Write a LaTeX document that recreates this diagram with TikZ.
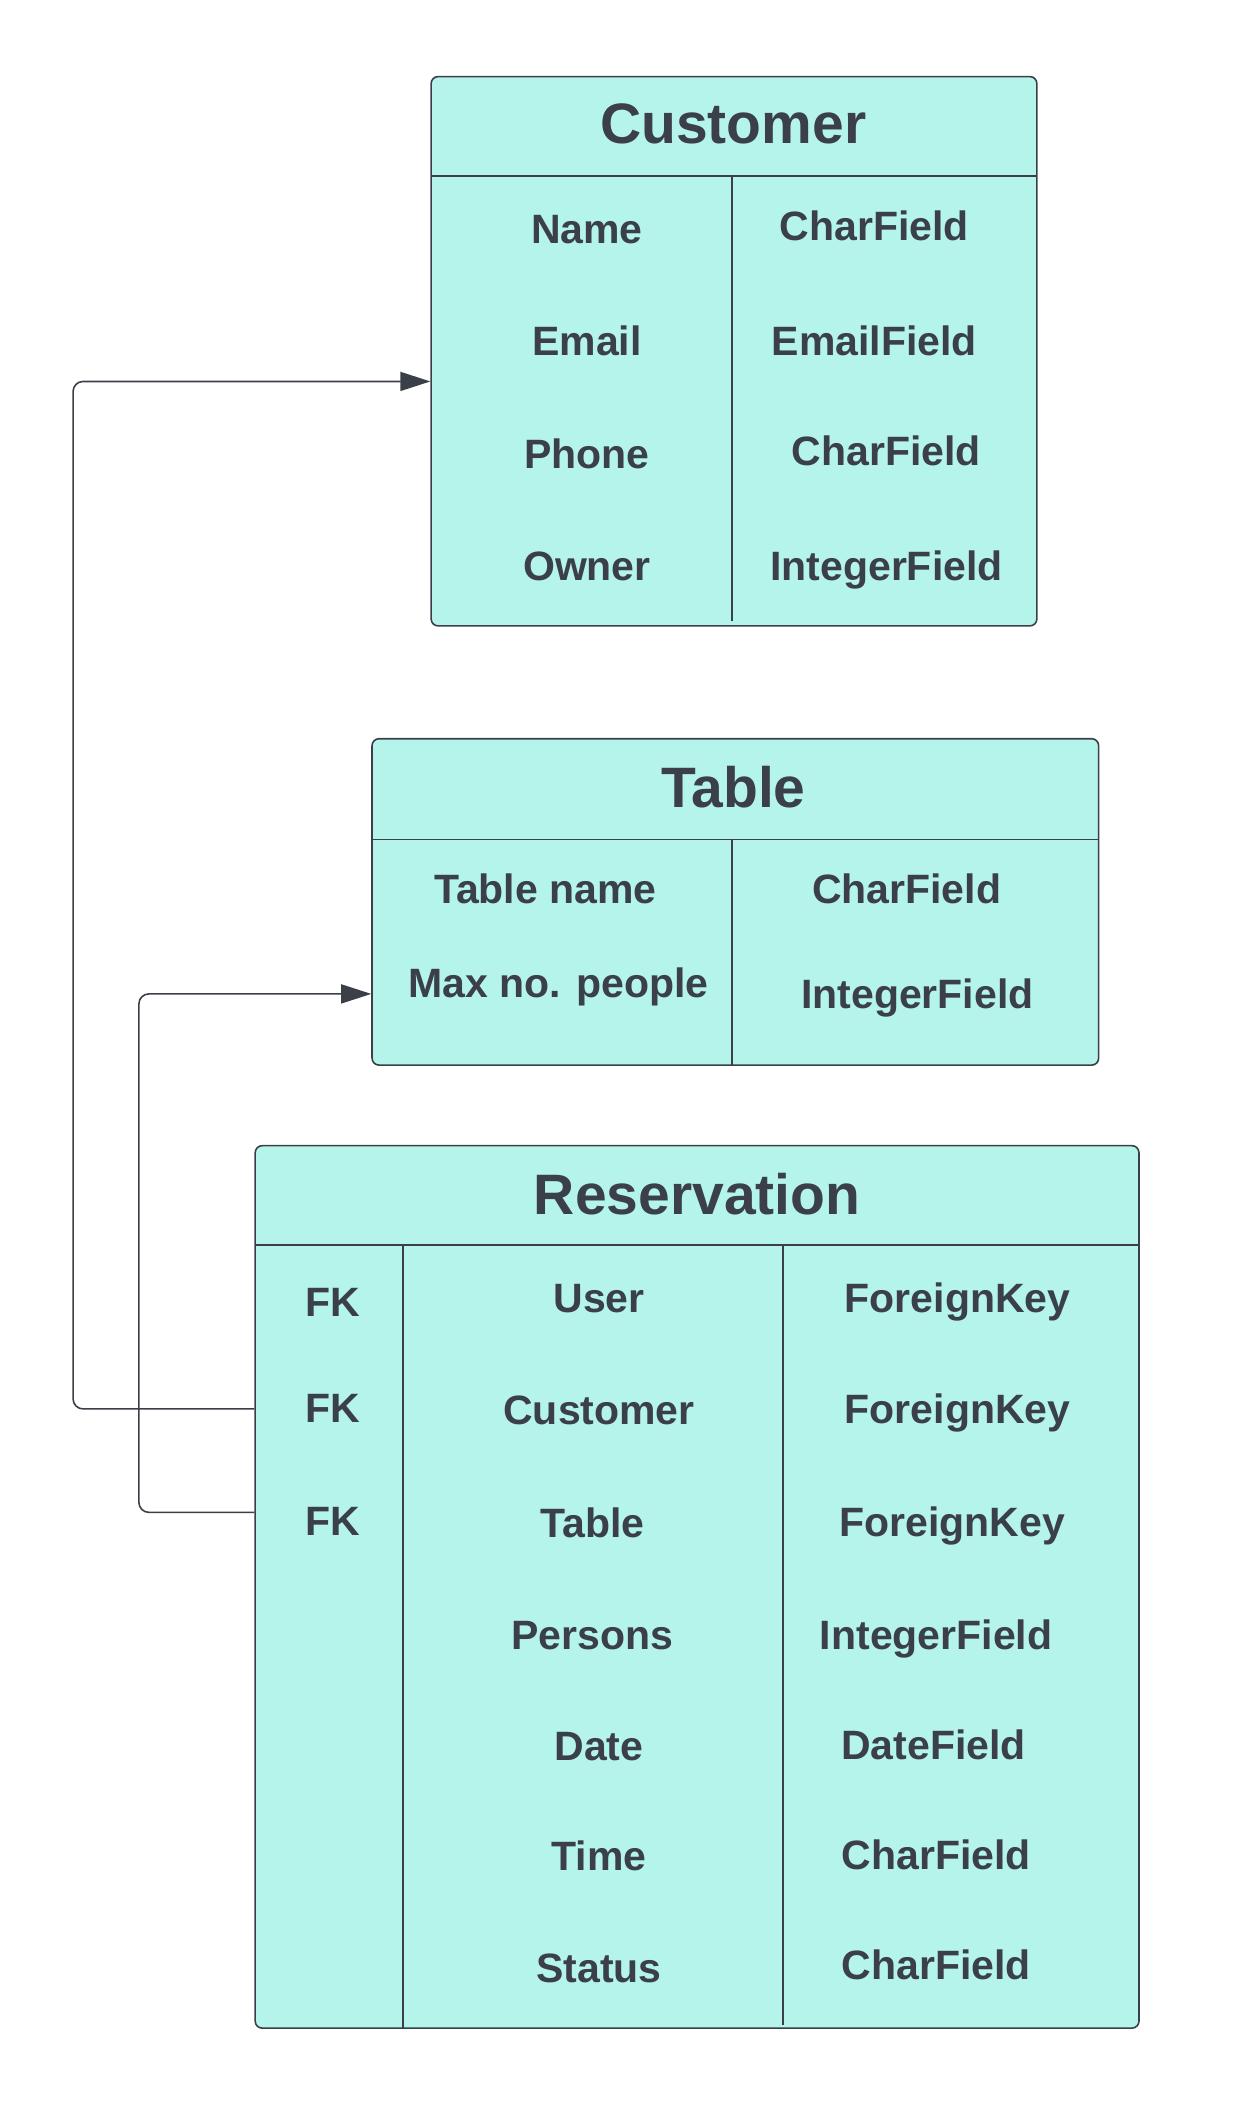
\documentclass[tikz,border=0pt]{standalone}
\usepackage{fontspec}
\setmainfont{Liberation Sans}
\usetikzlibrary{arrows.meta,positioning,fit}
\definecolor{aqua}{HTML}{B5F4EA}
\definecolor{ink}{HTML}{3A3F48}

\begin{document}
\begin{tikzpicture}[x=0.67165pt, y=-0.67165pt,
  every node/.style={font=\bfseries\fontsize{20.5}{24}\selectfont, text=ink, inner sep=0pt, text height=14.7pt, text depth=0pt},
  entity/.style={draw=ink, fill=aqua, line width=0.8pt, rounded corners=3.5pt},
  title/.style={font=\bfseries\fontsize{28.5}{34}\selectfont, text height=20.4pt},
  rule/.style={draw=ink, line width=0.65pt},
  link/.style={draw=ink, line width=0.8pt, rounded corners=5pt, -{Triangle[length=15pt,width=9.5pt]}}]
  \useasboundingbox (0,0) rectangle (938,1568);

  % Customer
  \node[entity, fit={(321,57) (772,466)}] (cust) {};
  \draw[rule] (321,131) -- (772,131);
  \draw[rule] (545,131) -- (545,462);
  \node[title] (custT) at (546,92) {Customer};
  \node (cName)  at (437,170) {Name};
  \node (cEmail) at (437,254) {Email};
  \node (cPhone) at (437,338) {Phone};
  \node (cOwner) at (437,421) {Owner};
  \node (cNameF)  at (651,168) {CharField};
  \node (cEmailF) at (651,254) {EmailField};
  \node (cPhoneF) at (660,336) {CharField};
  \node (cOwnerF) at (660,421) {IntegerField};

  % Table
  \node[entity, fit={(277,550) (818,793)}] (tbl) {};
  \draw[rule] (277,625) -- (818,625);
  \draw[rule] (545,625) -- (545,793);
  \node[title] (tblT) at (546,586) {Table};
  \node (tName)  at (406,662) {Table name};
  \node (tMax)   at (416,732) {Max no. people};
  \node (tNameF) at (675,662) {CharField};
  \node (tMaxF)  at (683,740) {IntegerField};

  % Reservation
  \node[entity, fit={(190,853) (848,1510)}] (resv) {};
  \draw[rule] (190,927) -- (848,927);
  \draw[rule] (300,927) -- (300,1510);
  \draw[rule] (583,927) -- (583,1508);
  \node[title] (resvT) at (519,889) {Reservation};
  \node (rFK1) at (248,969)  {FK};
  \node (rFK2) at (248,1048) {FK};
  \node (rFK3) at (248,1132) {FK};
  \node (rUser)     at (446,966)  {User};
  \node (rCustomer) at (446,1050) {Customer};
  \node (rTable)    at (441,1134) {Table};
  \node (rPersons)  at (441,1217) {Persons};
  \node (rDate)     at (446,1300) {Date};
  \node (rTime)     at (446,1382) {Time};
  \node (rStatus)   at (446,1465) {Status};
  \node (rUserF)     at (713,966)  {ForeignKey};
  \node (rCustomerF) at (713,1049) {ForeignKey};
  \node (rTableF)    at (709,1133) {ForeignKey};
  \node (rPersonsF)  at (697,1217) {IntegerField};
  \node (rDateF)     at (695,1299) {DateField};
  \node (rTimeF)     at (697,1381) {CharField};
  \node (rStatusF)   at (697,1463) {CharField};

  % foreign keys
  \coordinate (custin)  at (cust.west |- 0,284);
  \coordinate (tblin)   at (tbl.west |- 0,740);
  \coordinate (custout) at (resv.west |- 0,1049);
  \coordinate (tblout)  at (resv.west |- 0,1126);
  \draw[link] (custout) -- ++(-135,0) |- (custin);
  \draw[link] (tblout) -- ++(-86,0) |- (tblin);
\end{tikzpicture}
\end{document}
